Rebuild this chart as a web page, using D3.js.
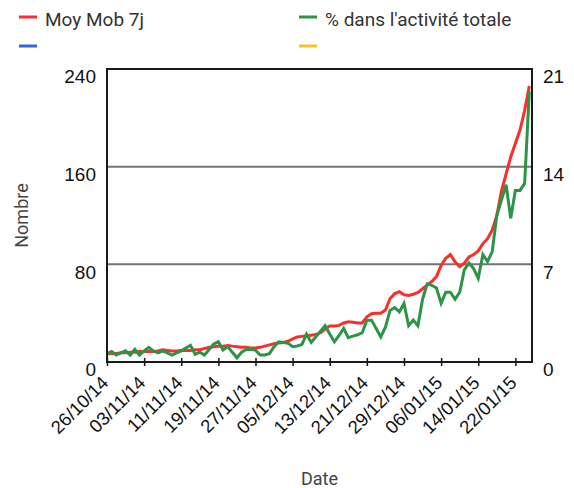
<!DOCTYPE html>
<html>
<head>
<meta charset="utf-8">
<script src="https://d3js.org/d3.v7.min.js"></script>
<style>
  body { margin: 0; background: #fff; }
</style>
</head>
<body>
<script>
// daily values, 26/10/14 -> 25/01/15
var startDate = "2014-10-26";

var moyMob7j = [
  6.5, 7, 7, 7.5, 7.5, 8, 8, 8.5, 8.5, 8.5,
  8.5, 9, 10, 9.5, 9, 9, 9.5, 9.5, 9.5, 10,
  10, 11, 12, 12.5, 13, 13, 13.5, 13, 12.5, 12,
  12, 11.5, 11.5, 12, 13, 14, 15, 15.5, 16, 17,
  19, 20.5, 21, 21.5, 22, 22.5, 24, 27, 29.5, 29.5,
  30, 32, 33, 32.5, 32, 32, 37, 39.5, 40, 40,
  42.5, 52, 56, 57.5, 55, 54.5, 55.5, 57, 60, 63,
  66, 70, 79, 85, 88, 82, 78, 81, 86, 88,
  91, 97, 101, 108, 120, 140, 154, 168, 179, 190,
  206, 226
];

var pctActivite = [
  0.6, 0.75, 0.5, 0.65, 0.8, 0.5, 0.9, 0.5, 0.8, 1.05,
  0.8, 0.65, 0.8, 0.65, 0.5, 0.65, 0.8, 1.0, 1.2, 0.55,
  0.7, 0.5, 0.9, 1.3, 1.45, 0.85, 1.1, 0.7, 0.3, 0.7,
  0.9, 0.9, 0.85, 0.5, 0.5, 0.6, 1.1, 1.45, 1.4, 1.35,
  1.1, 1.15, 1.25, 2.0, 1.4, 1.8, 2.2, 2.6, 2.0, 1.45,
  1.9, 2.4, 1.75, 1.85, 1.95, 2.1, 3.0, 3.0, 2.4, 1.8,
  2.5, 3.7, 3.9, 3.6, 4.2, 2.6, 3.0, 2.6, 4.5, 5.6,
  5.5, 5.3, 4.2, 5.0, 5.0, 4.5, 5.0, 6.6, 7.1, 6.7,
  6.0, 7.7, 7.2, 7.9, 10.5, 11.6, 12.7, 10.3, 12.3, 12.3,
  12.8, 19.4
];

var xTickLabels = ["26/10/14", "03/11/14", "11/11/14", "19/11/14", "27/11/14", "05/12/14",
                   "13/12/14", "21/12/14", "29/12/14", "06/01/15", "14/01/15", "22/01/15"];
var leftTicks = [0, 80, 160, 240];
var rightTicks = [0, 7, 14, 21];

var legendItems = [
  {label: "Moy Mob 7j", color: "#fa2f2c"},
  {label: "% dans l'activité totale", color: "#2b9447"},
  {label: "", color: "#3163e3"},
  {label: "", color: "#f7c22a"}
];

var width = 574,
    height = 488;
var margin = {top: 69, right: 42, bottom: 126, left: 107};

var parseDate = d3.utcParse("%d/%m/%y");
var start = d3.utcParse("%Y-%m-%d")(startDate);

var data = moyMob7j.map(function(v, i) {
  return {date: d3.utcDay.offset(start, i), moy: v, pct: pctActivite[i]};
});

var svg = d3.select("body").append("svg")
    .attr("width", width)
    .attr("height", height);

var x = d3.scaleUtc()
    .domain([start, d3.utcHour.offset(start, 91.6 * 24)])
    .range([margin.left, width - margin.right]);

var yLeft = d3.scaleLinear()
    .domain([0, 240])
    .range([height - margin.bottom, margin.top]);

var yRight = d3.scaleLinear()
    .domain([0, 21])
    .range([height - margin.bottom, margin.top]);

var plotBottom = yLeft(0), plotTop = yLeft(240);
var tickFont = "'Liberation Sans', Arial, sans-serif";

// gridlines
svg.append("g")
    .selectAll("line")
    .data([80, 160])
    .enter().append("line")
    .attr("x1", margin.left)
    .attr("x2", width - margin.right)
    .attr("y1", function(d) { return yLeft(d); })
    .attr("y2", function(d) { return yLeft(d); })
    .attr("stroke", "#747474")
    .attr("stroke-width", 2);

// left axis labels
var leftAxis = svg.append("g")
    .attr("transform", "translate(" + margin.left + ",0)")
    .call(d3.axisLeft(yLeft).tickValues(leftTicks).tickSize(0).tickPadding(11));
leftAxis.select(".domain").remove();
leftAxis.selectAll("text")
    .attr("dy", "0.72em")
    .style("font-family", tickFont)
    .style("font-size", "19px")
    .attr("fill", "#111");

// right axis labels
var rightAxis = svg.append("g")
    .attr("transform", "translate(" + (width - margin.right) + ",0)")
    .call(d3.axisRight(yRight).tickValues(rightTicks).tickSize(0).tickPadding(11));
rightAxis.select(".domain").remove();
rightAxis.selectAll("text")
    .attr("dy", "0.72em")
    .style("font-family", tickFont)
    .style("font-size", "19px")
    .attr("fill", "#111");

// bottom axis
var xAxis = svg.append("g")
    .attr("transform", "translate(0," + plotBottom + ")")
    .call(d3.axisBottom(x)
        .tickValues(xTickLabels.map(function(s) { return parseDate(s); }))
        .tickFormat(d3.utcFormat("%d/%m/%y"))
        .tickSizeOuter(0));
xAxis.select(".domain").remove();
xAxis.selectAll(".tick line")
    .attr("y1", -4)
    .attr("y2", 4)
    .attr("stroke", "#111")
    .attr("stroke-width", 1.5);
xAxis.selectAll(".tick text")
    .attr("text-anchor", "end")
    .attr("x", 0)
    .attr("y", 0)
    .attr("dy", 0)
    .attr("transform", "translate(2,22) rotate(-45)")
    .style("font-family", tickFont)
    .style("font-size", "18.5px")
    .attr("fill", "#111");

// lines
var lineMoy = d3.line()
    .x(function(d) { return x(d.date); })
    .y(function(d) { return yLeft(d.moy); });

var linePct = d3.line()
    .x(function(d) { return x(d.date); })
    .y(function(d) { return yRight(d.pct); });

svg.append("path")
    .datum(data)
    .attr("d", lineMoy)
    .attr("fill", "none")
    .attr("stroke", legendItems[0].color)
    .attr("stroke-width", 3);

svg.append("path")
    .datum(data)
    .attr("d", linePct)
    .attr("fill", "none")
    .attr("stroke", legendItems[1].color)
    .attr("stroke-width", 3);

// frame
svg.append("rect")
    .attr("x", margin.left)
    .attr("y", plotTop)
    .attr("width", width - margin.right - margin.left)
    .attr("height", plotBottom - plotTop)
    .attr("fill", "none")
    .attr("stroke", "#1a1a1a")
    .attr("stroke-width", 2);

// axis titles
svg.append("text")
    .attr("transform", "translate(28," + ((plotTop + plotBottom) / 2) + ") rotate(-90)")
    .attr("text-anchor", "middle")
    .style("font-family", "Roboto, sans-serif")
    .style("font-size", "18px")
    .attr("fill", "#444")
    .text("Nombre");

svg.append("text")
    .attr("x", (margin.left + width - margin.right) / 2)
    .attr("y", 485)
    .attr("text-anchor", "middle")
    .style("font-family", "Roboto, sans-serif")
    .style("font-size", "18px")
    .attr("fill", "#444")
    .text("Date");

// legend
var legend = svg.append("g")
    .selectAll("g")
    .data(legendItems)
    .enter().append("g")
    .attr("transform", function(d, i) {
        return "translate(" + (i % 2 === 0 ? 19 : 299) + "," + (i < 2 ? 17 : 46) + ")";
    });

legend.append("line")
    .attr("x1", 0)
    .attr("x2", 18)
    .attr("stroke", function(d) { return d.color; })
    .attr("stroke-width", 3);

legend.append("text")
    .attr("x", 26)
    .attr("y", 9)
    .style("font-family", "Roboto, sans-serif")
    .style("font-size", "19px")
    .attr("fill", "#333")
    .text(function(d) { return d.label; });
</script>
</body>
</html>
